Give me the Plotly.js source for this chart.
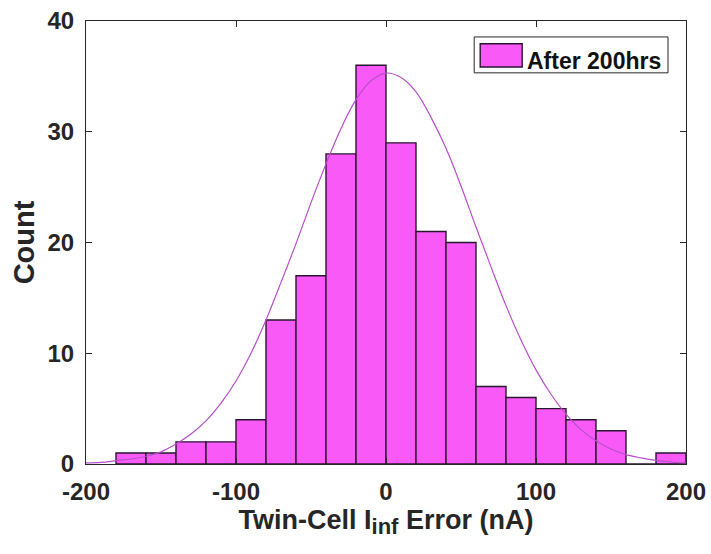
<!DOCTYPE html>
<html>
<head>
<meta charset="utf-8">
<script src="https://cdn.plot.ly/plotly-3.0.1.min.js"></script>
<style>html,body{margin:0;padding:0;background:#fff;}#chart{width:711px;height:554px;}</style>
</head>
<body>
<div id="chart"></div>
<script>
// Histogram bins (left edges, nA) and counts
const binLeftEdges = [-180,-160,-140,-120,-100,-80,-60,-40,-20,0,20,40,60,80,100,120,140,160,180];
const binCounts    = [1,1,2,2,4,13,17,28,36,29,21,20,7,6,5,4,3,0,1];
const binWidth = 20;

// Fitted normal curve
const fitX = [-200,-190,-180,-170,-160,-150,-140,-130,-120,-110,-100,-90,-80,-70,-60,-50,-40,-30,-20,-10,0,10,20,30,40,50,60,70,80,90,100,110,120,130,140,150,160,170,180,190,200];
const fitY = [0.1,0.15,0.3,0.45,0.7,1.1,1.8,2.7,3.9,5.5,7.5,10.0,13.0,16.4,19.9,23.6,27.1,30.3,32.9,34.6,35.3,34.9,33.6,31.3,28.5,25.1,21.4,17.8,14.3,11.2,8.5,6.3,4.5,3.1,2.1,1.35,0.85,0.55,0.32,0.18,0.1];

const seriesName = 'After 200hrs';
const xTicks = [-200,-100,0,100,200];
const yTicks = [0,10,20,30,40];

const FONT = 'Liberation Sans, Arial, sans-serif';
const INK = '#262626';
const BAR_FILL = '#f95af7';
const BAR_EDGE = '#2a1530';

const bars = {
  type: 'bar',
  x: binLeftEdges,
  y: binCounts,
  width: binWidth,
  offset: 0,
  name: seriesName,
  marker: {color: BAR_FILL, line: {color: BAR_EDGE, width: 1.4}},
  showlegend: false
};
const fit = {
  type: 'scatter',
  mode: 'lines',
  x: fitX,
  y: fitY,
  line: {color: '#b64fc8', width: 1.2, shape: 'spline'},
  showlegend: false,
  hoverinfo: 'skip'
};

const layout = {
  width: 711, height: 554,
  margin: {l: 86, r: 25, t: 21, b: 90},
  paper_bgcolor: '#fff', plot_bgcolor: '#fff',
  bargap: 0,
  font: {family: FONT, color: INK, size: 24, weight: 'bold'},
  xaxis: {
    range: [-200, 200], tickvals: xTicks, ticktext: xTicks.map(String),
    ticks: 'inside', ticklen: 6, tickwidth: 1, tickcolor: INK,
    ticklabelstandoff: 6,
    showline: true, linecolor: INK, linewidth: 1, mirror: 'ticks',
    showgrid: false, zeroline: false,
    tickfont: {family: FONT, size: 24, color: INK, weight: 'bold'},
    title: {text: 'Twin-Cell I<sub><span style="font-size:22px">inf</span></sub> Error (nA)', font: {family: FONT, size: 27, color: INK, weight: 'bold'}, standoff: 4}
  },
  yaxis: {
    range: [0, 40], tickvals: yTicks, ticktext: yTicks.map(String),
    ticks: 'inside', ticklen: 6, tickwidth: 1, tickcolor: INK,
    ticklabelstandoff: 6,
    showline: true, linecolor: INK, linewidth: 1, mirror: 'ticks',
    showgrid: false, zeroline: false,
    tickfont: {family: FONT, size: 24, color: INK, weight: 'bold'},
    title: {text: 'Count', font: {family: FONT, size: 29, color: INK, weight: 'bold'}, standoff: 4}
  },
  showlegend: false,
  shapes: [
    // legend box
    {type: 'rect', xref: 'paper', yref: 'paper', x0: 0.647, x1: 0.970, y0: 0.883, y1: 0.964,
     line: {color: INK, width: 1}, fillcolor: '#fff', layer: 'above'},
    // legend swatch
    {type: 'rect', xref: 'paper', yref: 'paper', x0: 0.657, x1: 0.727, y0: 0.896, y1: 0.9485,
     line: {color: BAR_EDGE, width: 1.4}, fillcolor: BAR_FILL, layer: 'above'}
  ],
  annotations: [
    {xref: 'paper', yref: 'paper', x: 0.731, y: 0.9105, xanchor: 'left', yanchor: 'middle',
     text: seriesName, showarrow: false,
     font: {family: FONT, size: 23, color: '#111', weight: 'bold'}}
  ]
};

Plotly.newPlot('chart', [bars, fit], layout, {displayModeBar: false, staticPlot: true});
</script>
</body>
</html>
